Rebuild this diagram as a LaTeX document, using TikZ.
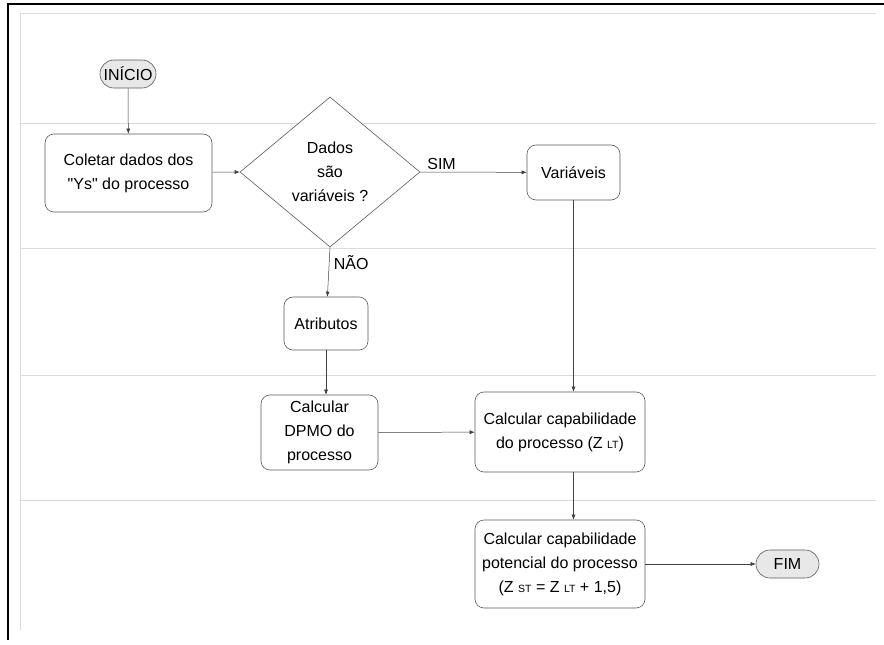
\documentclass[tikz,border=0pt]{standalone}
\usepackage{fontspec}
\setmainfont{Liberation Sans}
\newfontfamily\rawfont{Liberation Sans}[Ligatures=TeXOff]
\usetikzlibrary{shapes.geometric,shapes.misc,arrows.meta}
\definecolor{edge}{HTML}{5A5A5A}
\definecolor{lane}{HTML}{DCDCDC}
\definecolor{termfill}{HTML}{E8E8E8}
\newcommand{\subsm}[1]{{\fontsize{10.5}{10.5}\selectfont #1}}
\begin{document}
\begin{tikzpicture}[x=1pt,y=-1pt,
  every node/.style={font=\fontsize{16}{24}\selectfont},
  procbox/.style={draw=edge, line width=0.6pt, rounded corners=9pt, fill=white, align=center, inner sep=0pt},
  terminal/.style={draw=edge, line width=0.6pt, rounded rectangle, fill=termfill, minimum height=28pt, inner xsep=4pt, inner ysep=0pt},
  decision/.style={draw=edge, line width=0.6pt, diamond, fill=white, align=center, minimum width=180pt, minimum height=150pt, inner sep=0pt, aspect=1.2},
  flow/.style={draw=black!75, line width=0.5pt, -{Latex[length=5pt,width=4pt]}},
  lanes/.style={draw=lane, line width=1pt},
  frame/.style={draw=black, line width=2pt}
]
\useasboundingbox (0,0) rectangle (884,645);
\fill[white] (0,0) rectangle (884,645);
% swim lanes
\draw[lanes] (876,13) -- (20,13) -- (20,630);
\foreach \yy in {123,248,375,500} \draw[lanes] (20,\yy) -- (876,\yy);
% outer frame
\draw[frame] (884,4) -- (8,4) -- (8,640);
% nodes
\node[terminal, minimum width=64pt] (ini) at (128,74) {INÍCIO};
\node[procbox, minimum width=167pt, minimum height=78pt] (col) at (128.5,173) {Coletar dados dos\\{\rawfont"Ys"} do processo};
\node[decision] (dec) at (330,172) {Dados\\são\\variáveis ?};
\node[procbox, minimum width=93pt, minimum height=55pt] (var) at (573.5,172.5) {Variáveis};
\node[procbox, minimum width=84pt, minimum height=53pt] (atr) at (326,323.5) {Atributos};
\node[procbox, minimum width=117pt, minimum height=75pt] (dpmo) at (319.5,432.5) {Calcular\\DPMO do\\processo};
\node[procbox, minimum width=170pt, minimum height=80pt] (cap) at (560,432) {Calcular capabilidade\\do processo (Z \subsm{LT})};
\node[procbox, minimum width=170pt, minimum height=88pt] (pot) at (560,564) {Calcular capabilidade\\potencial do processo\\(Z \subsm{ST} = Z \subsm{LT} + 1,5)};
\node[terminal, minimum width=71pt] (fim) at (787.5,564) {FIM};
% connectors
\draw[flow] (ini) -- (col);
\draw[flow] (col) -- (dec.west);
\draw[flow] (dec.east) -- node[above, pos=0.2, yshift=-1pt] (sim) {SIM} (var);
\draw[flow] (dec.south) -- node[right, pos=0.3, xshift=1pt] (nao) {NÃO} (atr);
\draw[flow] (atr.south) -- (atr.south |- dpmo.north);
\draw[flow] (var.south) -- (var.south |- cap.north);
\draw[flow] (dpmo) -- (cap);
\draw[flow] (var.south |- cap.south) -- (var.south |- pot.north);
\draw[flow] (pot) -- (fim);
\end{tikzpicture}
\end{document}
